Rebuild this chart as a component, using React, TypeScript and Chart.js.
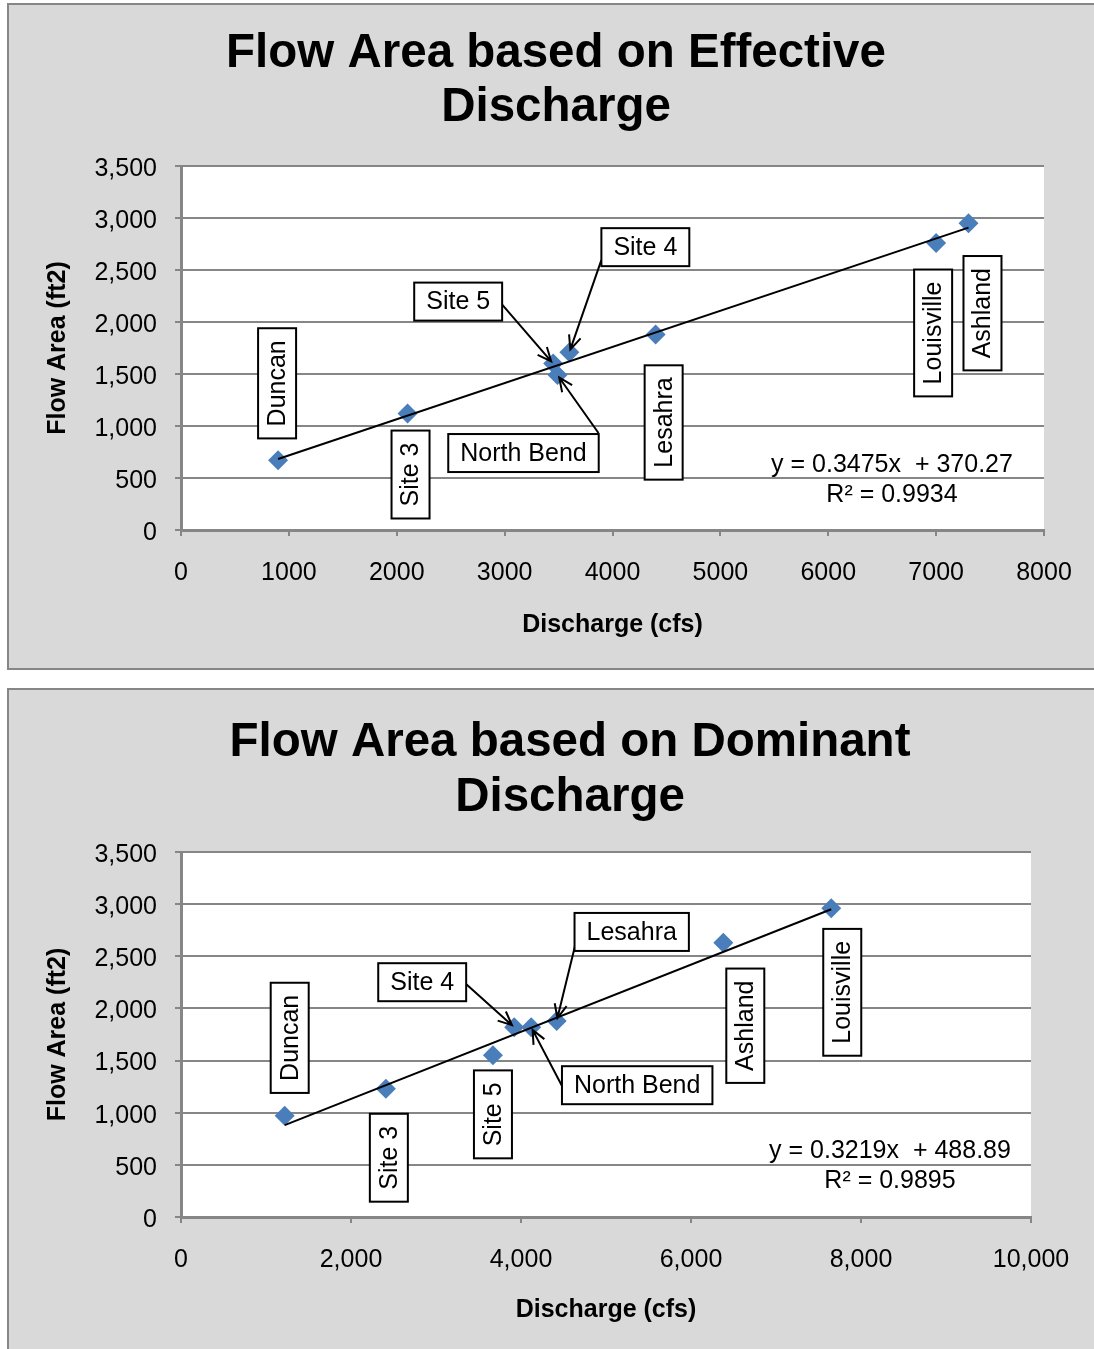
import React, { useEffect, useRef } from "react";
import { Chart, registerables } from "chart.js";

Chart.register(...registerables);

// ---------------- DATA ----------------
// Effective discharge chart
const effSites = ["Duncan", "Site 3", "Site 5", "North Bend", "Site 4", "Lesahra", "Louisville", "Ashland"];
const effDischarge = [900, 2100, 3450, 3490, 3600, 4400, 7000, 7300];
const effArea = [670, 1120, 1600, 1490, 1710, 1880, 2760, 2950];
const effSlope = 0.3475;
const effIntercept = 370.27;
const effR2 = "0.9934";

// Dominant discharge chart
const domSites = ["Duncan", "Site 3", "Site 5", "Site 4", "North Bend", "Lesahra", "Ashland", "Louisville"];
const domDischarge = [1220, 2410, 3670, 3920, 4120, 4420, 6380, 7650];
const domArea = [970, 1230, 1550, 1820, 1820, 1880, 2630, 2960];
const domSlope = 0.3219;
const domIntercept = 488.89;
const domR2 = "0.9895";

const yMin = 0;
const yMax = 3500;
const yStep = 500;

// ---------------- STYLE / LAYOUT ----------------
const FONT = '"Liberation Sans", Arial, Helvetica, sans-serif';
const GRID = "#868686";

type LabelLayout = { dx: number; dy: number; vertical: boolean; arrow?: [number, number] };

// label boxes, offsets (px) from their data point
const effLabelLayout: LabelLayout[] = [
  { dx: -1, dy: -77, vertical: true },
  { dx: 3, dy: 61, vertical: true },
  { dx: -95, dy: -62, vertical: false, arrow: [44, 3] },
  { dx: -34, dy: 78, vertical: false, arrow: [75, -20] },
  { dx: 76, dy: -105, vertical: false, arrow: [-44, 13] },
  { dx: 8, dy: 88, vertical: true },
  { dx: -3, dy: 90, vertical: true },
  { dx: 14, dy: 90, vertical: true },
];

const domLabelLayout: LabelLayout[] = [
  { dx: 5, dy: -78, vertical: true },
  { dx: 3, dy: 69, vertical: true },
  { dx: 0, dy: 59, vertical: true },
  { dx: -92, dy: -45, vertical: false, arrow: [43, 1] },
  { dx: 106, dy: 58, vertical: false, arrow: [-74, 3] },
  { dx: 75, dy: -89, vertical: false, arrow: [-54, 3] },
  { dx: 22, dy: 83, vertical: true },
  { dx: 11, dy: 84, vertical: true },
];

function fmtComma(v: number): string {
  return String(Math.round(v)).replace(/\B(?=(\d{3})+(?!\d))/g, ",");
}

type Spec = {
  title: string[];
  sites: string[];
  q: number[];
  a: number[];
  slope: number;
  intercept: number;
  r2: string;
  xMax: number;
  xStep: number;
  xComma: boolean;
  labels: LabelLayout[];
  height: number;
  boxY: number;
  boxH: number;
  titleX: number;
  titleY: number;
  titleGap: number;
  padTop: number;
  padRight: number;
  xAxisH: number;
  xTickPad: number;
  xTitlePad: number;
  eqDx: number;
  eqDy: number;
};

function drawArrow(ctx: CanvasRenderingContext2D, x1: number, y1: number, x2: number, y2: number) {
  const ang = Math.atan2(y2 - y1, x2 - x1);
  const len = Math.hypot(x2 - x1, y2 - y1);
  const ex = x1 + Math.cos(ang) * (len - 3);
  const ey = y1 + Math.sin(ang) * (len - 3);
  ctx.beginPath();
  ctx.moveTo(x1, y1);
  ctx.lineTo(ex, ey);
  const h = 15;
  const spread = 0.42;
  ctx.moveTo(ex - h * Math.cos(ang - spread), ey - h * Math.sin(ang - spread));
  ctx.lineTo(ex, ey);
  ctx.lineTo(ex - h * Math.cos(ang + spread), ey - h * Math.sin(ang + spread));
  ctx.stroke();
}

function makeConfig(spec: Spec): any {
  const xmin = Math.min(...spec.q);
  const xmax = Math.max(...spec.q);
  const trend = [
    { x: xmin, y: spec.slope * xmin + spec.intercept },
    { x: xmax, y: spec.slope * xmax + spec.intercept },
  ];
  const points = spec.q.map((x, i) => ({ x, y: spec.a[i] }));

  const decor = {
    id: "decor",
    beforeDraw(chart: any) {
      const ctx: CanvasRenderingContext2D = chart.ctx;
      const w = chart.width;
      const h = chart.height;
      ctx.save();
      ctx.fillStyle = "#ffffff";
      ctx.fillRect(0, 0, w, h);
      ctx.fillStyle = "#d9d9d9";
      ctx.fillRect(8, spec.boxY, w + 40, spec.boxH);
      ctx.strokeStyle = GRID;
      ctx.lineWidth = 2;
      ctx.strokeRect(8, spec.boxY, w + 40, spec.boxH);
      const ca = chart.chartArea;
      ctx.fillStyle = "#ffffff";
      ctx.fillRect(ca.left, ca.top, ca.right - ca.left, ca.bottom - ca.top);
      ctx.fillStyle = "#000";
      ctx.font = `bold 47.5px ${FONT}`;
      ctx.textAlign = "center";
      ctx.textBaseline = "middle";
      spec.title.forEach((t, i) => ctx.fillText(t, spec.titleX, spec.titleY + i * spec.titleGap));
      ctx.restore();
    },
    afterDatasetsDraw(chart: any) {
      const ctx: CanvasRenderingContext2D = chart.ctx;
      const xs = chart.scales.x;
      const ys = chart.scales.y;
      const ca = chart.chartArea;
      ctx.save();
      ctx.font = `25px ${FONT}`;
      ctx.lineWidth = 2;
      ctx.strokeStyle = "#000";
      spec.labels.forEach((lay, i) => {
        const px = xs.getPixelForValue(spec.q[i]);
        const py = ys.getPixelForValue(spec.a[i]);
        const cx = px + lay.dx;
        const cy = py + lay.dy;
        const text = spec.sites[i];
        const tw = ctx.measureText(text).width;
        const long = tw + 24;
        const short = 38;
        const bw = lay.vertical ? short : long;
        const bh = lay.vertical ? long : short;
        if (lay.arrow) {
          drawArrow(ctx, cx + lay.arrow[0], cy + lay.arrow[1], px, py);
        }
        ctx.fillStyle = "#fff";
        ctx.fillRect(cx - bw / 2, cy - bh / 2, bw, bh);
        ctx.strokeRect(cx - bw / 2, cy - bh / 2, bw, bh);
        ctx.fillStyle = "#000";
        ctx.textAlign = "center";
        ctx.textBaseline = "middle";
        ctx.save();
        ctx.translate(cx, cy);
        if (lay.vertical) ctx.rotate(-Math.PI / 2);
        ctx.fillText(text, 0, 1);
        ctx.restore();
      });
      // trendline equation
      ctx.fillStyle = "#000";
      ctx.textAlign = "center";
      ctx.textBaseline = "middle";
      const ex = ca.right + spec.eqDx;
      const ey = ca.bottom + spec.eqDy;
      const sign = spec.intercept >= 0 ? "+" : "-";
      ctx.fillText(`y = ${spec.slope}x  ${sign} ${Math.abs(spec.intercept)}`, ex, ey);
      ctx.fillText(`R² = ${spec.r2}`, ex, ey + 30);
      ctx.restore();
    },
  };

  return {
    type: "scatter",
    data: {
      datasets: [
        {
          label: "Trend",
          data: trend,
          showLine: true,
          borderColor: "#000",
          borderWidth: 2,
          pointRadius: 0,
          fill: false,
          order: 0,
        },
        {
          label: "Sites",
          data: points,
          pointStyle: "rectRot",
          pointRadius: 10,
          pointHoverRadius: 10,
          backgroundColor: "#4a7ebb",
          borderColor: "#4a7ebb",
          borderWidth: 0,
          order: 1,
        },
      ],
    },
    options: {
      responsive: false,
      animation: false,
      devicePixelRatio: 1,
      layout: { padding: { left: 0, right: spec.padRight, top: spec.padTop, bottom: 0 } },
      plugins: {
        legend: { display: false },
        tooltip: { enabled: false },
        title: { display: false },
      },
      scales: {
        x: {
          type: "linear",
          min: 0,
          max: spec.xMax,
          ticks: {
            stepSize: spec.xStep,
            autoSkip: false,
            maxRotation: 0,
            color: "#000",
            padding: spec.xTickPad,
            font: { family: FONT, size: 25 },
            callback: (v: number) => (spec.xComma ? fmtComma(v) : String(v)),
          },
          grid: { drawOnChartArea: false, drawTicks: true, tickLength: 6, color: GRID, lineWidth: 2 },
          border: { display: true, color: GRID, width: 3 },
          title: {
            display: true,
            text: "Discharge (cfs)",
            color: "#000",
            font: { family: FONT, size: 25, weight: "bold" },
            padding: { top: 0, bottom: spec.xTitlePad },
          },
          afterFit: (s: any) => {
            s.height = spec.xAxisH;
          },
        },
        y: {
          type: "linear",
          min: yMin,
          max: yMax,
          ticks: {
            stepSize: yStep,
            color: "#000",
            padding: 18,
            labelOffset: 3,
            font: { family: FONT, size: 25 },
            callback: (v: number) => fmtComma(v),
          },
          grid: { color: GRID, lineWidth: 2, tickLength: 6, drawTicks: true },
          border: { display: true, color: GRID, width: 3 },
          title: {
            display: true,
            text: "Flow Area (ft2)",
            color: "#000",
            font: { family: FONT, size: 25, weight: "bold" },
            padding: { top: 43, bottom: 0 },
          },
          afterFit: (s: any) => {
            s.width = 181;
          },
        },
      },
    },
    plugins: [decor],
  };
}

const effSpec: Spec = {
  title: ["Flow Area based on Effective", "Discharge"],
  sites: effSites,
  q: effDischarge,
  a: effArea,
  slope: effSlope,
  intercept: effIntercept,
  r2: effR2,
  xMax: 8000,
  xStep: 1000,
  xComma: false,
  labels: effLabelLayout,
  height: 679,
  boxY: 4,
  boxH: 665,
  titleX: 556,
  titleY: 54,
  titleGap: 54,
  padTop: 166,
  padRight: 50,
  xAxisH: 149,
  xTickPad: 22,
  xTitlePad: 39,
  eqDx: -152,
  eqDy: -65,
};

const domSpec: Spec = {
  title: ["Flow Area based on Dominant", "Discharge"],
  sites: domSites,
  q: domDischarge,
  a: domArea,
  slope: domSlope,
  intercept: domIntercept,
  r2: domR2,
  xMax: 10000,
  xStep: 2000,
  xComma: true,
  labels: domLabelLayout,
  height: 670,
  boxY: 10,
  boxH: 700,
  titleX: 570,
  titleY: 64,
  titleGap: 55,
  padTop: 173,
  padRight: 63,
  xAxisH: 132,
  xTickPad: 22,
  xTitlePad: 24,
  eqDx: -141,
  eqDy: -66,
};

function ChartCanvas({ spec, top }: { spec: Spec; top: number }) {
  const ref = useRef<HTMLCanvasElement | null>(null);
  useEffect(() => {
    if (!ref.current) return;
    const chart = new Chart(ref.current, makeConfig(spec));
    return () => chart.destroy();
  }, [spec]);
  return (
    <canvas
      ref={ref}
      width={1094}
      height={spec.height}
      style={{ position: "absolute", left: 0, top, width: 1094, height: spec.height, display: "block" }}
    />
  );
}

export default function App() {
  return (
    <div
      style={{
        position: "absolute",
        left: 0,
        top: 0,
        width: 1094,
        height: 1349,
        overflow: "hidden",
        background: "#fff",
      }}
    >
      <ChartCanvas spec={effSpec} top={0} />
      <ChartCanvas spec={domSpec} top={679} />
    </div>
  );
}
